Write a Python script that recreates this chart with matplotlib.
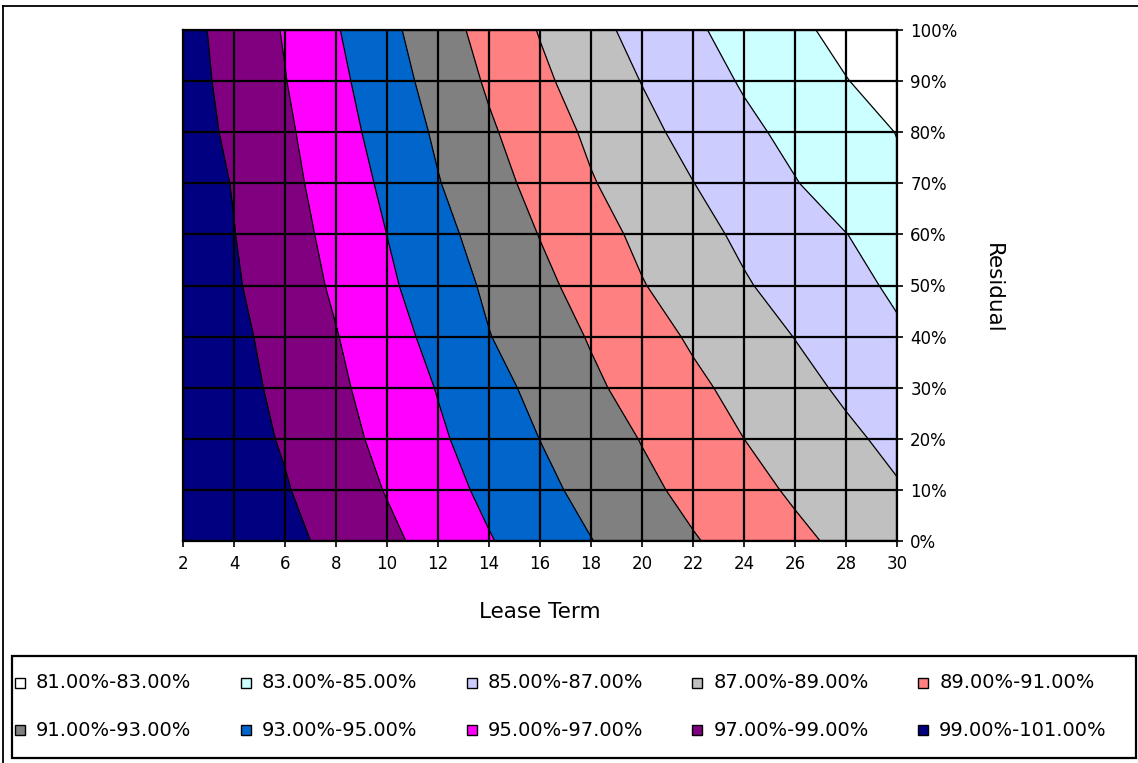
import numpy as np
import matplotlib
matplotlib.use("Agg")
import matplotlib.pyplot as plt
from matplotlib.patches import Rectangle
from matplotlib.lines import Line2D
from matplotlib.ticker import FuncFormatter

# Lease term (years) and residual value (fraction of cost)
lease_term = [2, 4, 6, 8, 10, 12, 14, 16, 18, 20, 22, 24, 26, 28, 30]
residual = [0.0, 0.1, 0.2, 0.3, 0.4, 0.5, 0.6, 0.7, 0.8, 0.9, 1.0]

# Rate (%) for each residual (rows) and lease term (columns)
rate_r000 = [100.90, 100.17, 99.44, 98.56, 97.42, 96.28, 95.12, 94.08, 93.05, 92.10, 91.14, 90.27, 89.41, 88.58, 87.78]
rate_r010 = [100.73, 99.93, 99.13, 98.05, 96.90, 95.72, 94.58, 93.49, 92.44, 91.44, 90.50, 89.61, 88.74, 87.90, 87.16]
rate_r020 = [100.56, 99.72, 98.83, 97.67, 96.48, 95.27, 94.12, 92.98, 91.95, 90.92, 89.96, 89.00, 88.18, 87.35, 86.54]
rate_r030 = [100.48, 99.58, 98.57, 97.36, 96.14, 94.91, 93.66, 92.47, 91.33, 90.33, 89.37, 88.46, 87.57, 86.70, 85.86]
rate_r040 = [100.39, 99.43, 98.32, 97.08, 95.76, 94.42, 93.06, 91.95, 90.86, 89.78, 88.76, 87.86, 86.96, 86.10, 85.24]
rate_r050 = [100.20, 99.20, 98.00, 96.73, 95.32, 93.98, 92.69, 91.46, 90.27, 89.09, 88.12, 87.16, 86.33, 85.52, 84.72]
rate_r060 = [100.14, 99.04, 97.78, 96.44, 94.99, 93.57, 92.23, 90.94, 89.73, 88.60, 87.59, 86.66, 85.84, 85.03, 84.23]
rate_r070 = [100.02, 98.91, 97.55, 96.12, 94.62, 93.09, 91.72, 90.40, 89.13, 88.07, 87.03, 86.05, 85.08, 84.18, 83.28]
rate_r080 = [99.87, 98.64, 97.33, 95.79, 94.23, 92.72, 91.25, 89.93, 88.67, 87.50, 86.42, 85.41, 84.53, 83.75, 82.96]
rate_r090 = [99.74, 98.44, 97.06, 95.47, 93.86, 92.28, 90.76, 89.37, 88.13, 86.95, 85.86, 84.82, 83.94, 83.06, 82.25]
rate_r100 = [99.64, 98.29, 96.86, 95.14, 93.49, 91.84, 90.31, 88.90, 87.59, 86.39, 85.28, 84.30, 83.37, 82.47, 81.59]

# Contour bands (%) and their fill colours
band_levels = [81, 83, 85, 87, 89, 91, 93, 95, 97, 99, 101]
band_colors = ["#FFFFFF", "#CCFFFF", "#CCCCFF", "#C0C0C0", "#FF8080",
               "#808080", "#0066CC", "#FF00FF", "#800080", "#000080"]

x_ticks = list(range(2, 31, 2))
y_ticks = [0.0, 0.1, 0.2, 0.3, 0.4, 0.5, 0.6, 0.7, 0.8, 0.9, 1.0]

Z = np.array([rate_r000, rate_r010, rate_r020, rate_r030, rate_r040, rate_r050,
              rate_r060, rate_r070, rate_r080, rate_r090, rate_r100])
X, Y = np.meshgrid(lease_term, residual)

W, H = 1138, 763
fig = plt.figure(figsize=(W / 100, H / 100), dpi=100)
fig.patch.set_facecolor("white")

ax = fig.add_axes([183 / W, 1 - 541 / H, (897 - 183) / W, (541 - 30) / H])
ax.contourf(X, Y, Z, levels=band_levels, colors=band_colors, zorder=1)
ax.contour(X, Y, Z, levels=band_levels[1:-1], colors="black", linewidths=0.9, zorder=2)

ax.set_xlim(2, 30)
ax.set_ylim(0, 1)
ax.set_xticks(x_ticks)
ax.set_yticks(y_ticks)
ax.yaxis.tick_right()
ax.yaxis.set_major_formatter(FuncFormatter(lambda v, p: f"{v * 100:.0f}%"))
ax.grid(True, color="black", linewidth=1.6)
ax.set_axisbelow(False)
for sp in ax.spines.values():
    sp.set_color("black")
    sp.set_linewidth(1.6)
ax.tick_params(axis="both", direction="inout", length=9, width=1.2,
               colors="black", labelsize=12)
ax.tick_params(axis="x", pad=5.5)
ax.tick_params(axis="y", pad=5)

fig.text(540 / W, 1 - 612 / H, "Lease Term", ha="center", va="center", fontsize=15.5)
fig.text(993 / W, 1 - 288 / H, "Residual", ha="center", va="center",
         rotation=270, fontsize=15.5)

# Outer chart frame (top and left edges)
fig.add_artist(Line2D([3 / W, 1.0], [1 - 6 / H, 1 - 6 / H], transform=fig.transFigure,
                      color="black", linewidth=1.3))
fig.add_artist(Line2D([3 / W, 3 / W], [0, 1 - 6 / H], transform=fig.transFigure,
                      color="black", linewidth=1.3))

# Legend box with two rows of five bands
fig.add_artist(Rectangle((12 / W, 1 - 758 / H), (1136 - 12) / W, (758 - 656) / H,
                         transform=fig.transFigure, facecolor="white",
                         edgecolor="black", linewidth=1.6))
labels = [f"{band_levels[i]:.2f}%-{band_levels[i + 1]:.2f}%" for i in range(len(band_colors))]
row_y = [683, 730]
for i, (lab, col) in enumerate(zip(labels, band_colors)):
    r, c = divmod(i, 5)
    x0 = 15 + 225.8 * c
    yc = row_y[r]
    fig.add_artist(Rectangle((x0 / W, 1 - (yc + 5) / H), 10 / W, 10 / H,
                             transform=fig.transFigure, facecolor=col,
                             edgecolor="black", linewidth=1.0))
    fig.text((x0 + 21) / W, 1 - yc / H, lab, ha="left", va="center", fontsize=14)

fig.savefig("out.png", dpi=100, facecolor="white")
